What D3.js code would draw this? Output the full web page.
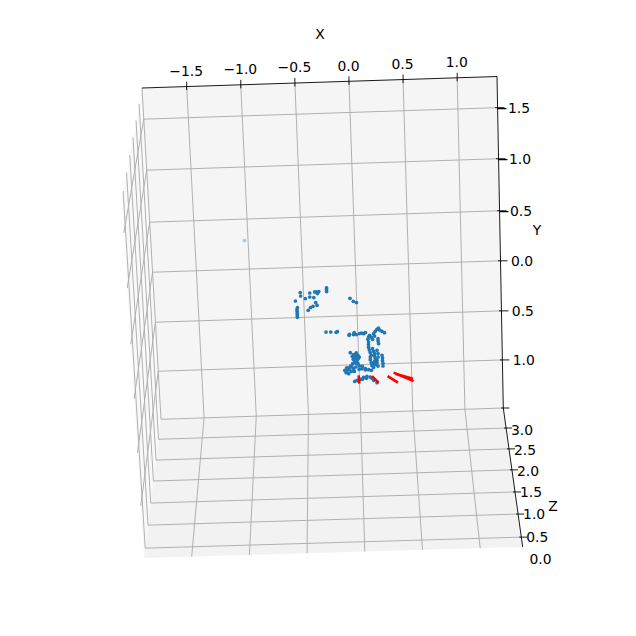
<!DOCTYPE html>
<html><head><meta charset="utf-8">
<script src="https://cdnjs.cloudflare.com/ajax/libs/d3/7.8.5/d3.min.js"></script>
<style>html,body{margin:0;padding:0;background:#fff}svg{display:block}text{font-family:"DejaVu Sans";font-size:13.9px;fill:#000}</style>
</head><body><svg id="c" width="636" height="636"></svg>
<script>
const xTicks=[-1.5,-1.0,-0.5,0.0,0.5,1.0];
const yTicks=[-1.5,-1.0,-0.5,0.0,0.5,1.0];
const zTicks=[0.5,1.0,1.5,2.0,2.5,3.0,3.5];
const zLabels=[0.0,0.5,1.0,1.5,2.0,2.5,3.0];
const dotX=[-.579,-.530,-.528,-.484,-.441,-.442,-.404,-.393,-.374,-.355,-.368,-.280,-.281,-.281,-.563,-.567,-.567,-.567,-.567,-.567,-.462,-.439,-.415,-.388,-.376,-.062,-.032,-.003,
-.301,-.256,-.205,-.193,-.083,-.080,-.034,-.016,.016,.035,.054,.073,-.042,.111,.101,.127,.150,.166,.183,.198,.208,.230,.254,.158,.138,.190,.190,.194,
.094,.099,.098,.098,.104,.112,.121,.135,.144,.153,.152,.158,.150,.140,.162,.177,.186,.185,.174,.173,.182,.111,.110,.119,.124,.139,.223,.227,.226,.230,.229,-.078,
-.048,-.025,-.006,-.038,-.015,.006,-.033,-.017,-.040,-.060,-.079,-.099,-.112,-.125,-.100,-.075,-.052,-.009,.003,-.029,.028,.002,.060,.091,.117,
-.045,-.022,.009,.040,.073,.104,.120,.136,.167,
-.060,-.021,-.004,-.052,-.025,-.093,-.069,-.117,-.136,-.046,.032,.060,-.010,.028,.066];
const dotY=[.334,.251,.286,.313,.259,.299,.306,.250,.251,.248,.267,.214,.230,.250,.400,.420,.440,.460,.480,.497,.431,.405,.393,.356,.384,.325,.356,.370,
.657,.658,.663,.656,.698,.688,.672,.693,.684,.679,.686,.676,.692,.705,.722,.723,.689,.666,.646,.634,.654,.668,.683,.714,.747,.742,.766,.793,
.745,.773,.799,.827,.855,.882,.909,.842,.869,.893,.918,.944,.972,.995,1.006,.860,.894,.929,.962,.986,1.021,.926,.953,.984,1.012,1.033,.913,.941,.967,.995,1.022,.875,
.896,.897,.905,.921,.925,.923,.938,.955,.972,.988,1.011,1.031,1.054,1.077,1.088,1.066,1.039,.989,1.014,1.023,1.042,1.048,1.043,1.054,1.062,
1.169,1.159,1.150,1.131,1.122,1.130,1.141,1.165,1.190,
.913,.879,.936,.944,.986,1.045,1.020,1.028,1.053,1.067,1.018,1.055,1.165,1.151,1.142];
const faintX=[-1.034], faintY=[-.286];
const redX0=[-.006,.121,.270,.328,.344], redY0=[1.109,1.121,1.126,1.093,1.104];
const redX1=[-.002,.182,.367,.516,.511], redY1=[1.194,1.190,1.197,1.186,1.161];

const TL=[142,88],TR=[497,76.5],BL=[161,419.3],BR=[503.3,408],FL=[144,558],FR=[522.7,547],FT=[121.7,199];
const sx=d3.scaleLinear().domain([-1.913,1.368]).range([0,1]);
const sy=d3.scaleLinear().domain([-1.8,-1.5,-1,-.5,0,.5,1,1.49]).range([0,.094,.248,.405,.556,.707,.855,1]);
const sz=d3.scaleLinear().domain([3.5,3,2.5,2,1.5,1,.5,.28,0]).range([0,.144,.294,.445,.604,.763,.929,1,1.094]);
const mix=(a,b,t)=>[a[0]+(b[0]-a[0])*t,a[1]+(b[1]-a[1])*t];
const bi=(a,b,c,d,u,v)=>mix(mix(a,b,u),mix(c,d,u),v);
const mainP=(x,y)=>bi(TL,TR,BL,BR,sx(x),sy(y));
const lowP=(x,z)=>bi(BL,BR,FL,FR,sx(x),sz(z));
const sideP=(y,z)=>bi(TL,BL,FT,FL,sy(y),sz(z));
const svg=d3.select("#c");
const line=d3.line();
const [x0,x1]=sx.domain(), yD=sy.domain(), y0=yD[0], y1=yD[yD.length-1], z0=3.5, z1=.28;

svg.selectAll("path.pane").data([[TL,BL,FL,FT,"#f9f9f9"],[TL,TR,BR,BL,"#f5f5f5"],[BL,BR,FR,FL,"#f2f2f2"]]).join("path")
 .attr("class","pane").attr("d",d=>line(d.slice(0,4))+"Z").attr("fill",d=>d[4]);

const grid=[];
xTicks.forEach(x=>{grid.push([mainP(x,y0),mainP(x,y1)]);grid.push([lowP(x,z0),lowP(x,z1)]);});
yTicks.forEach(y=>{grid.push([mainP(x0,y),mainP(x1,y)]);grid.push([sideP(y,z0),sideP(y,z1)]);});
zTicks.forEach(z=>{grid.push([lowP(x0,z),lowP(x1,z)]);grid.push([sideP(y0,z),sideP(y1,z)]);});
svg.append("g").selectAll("path").data(grid).join("path").attr("d",d=>line(d))
 .attr("fill","none").attr("stroke","#b0b0b0").attr("stroke-width",1);

svg.append("path").attr("d",line([TL,TR,BR,FR])).attr("fill","none").attr("stroke","#000").attr("stroke-width",.9);

const fmt=v=>d3.format(".1f")(v).replace("-","\u2212");
const ticks=[];
xTicks.forEach(x=>{const p=mainP(x,y0);ticks.push([[p[0],p[1]-5],[p[0],p[1]+3.5]]);});
yTicks.forEach(y=>{const p=mainP(x1,y);ticks.push([[p[0]-2.5,p[1]],[p[0]+7,p[1]]]);});
zTicks.forEach(z=>{const p=lowP(x1,z);ticks.push([[p[0]-2,p[1]],[p[0]+6,p[1]]]);});
svg.append("g").selectAll("path").data(ticks).join("path").attr("d",d=>line(d)).attr("stroke","#000").attr("stroke-width",.9).attr("fill","none");

svg.append("g").selectAll("text").data(xTicks).join("text").text(fmt)
 .attr("text-anchor","middle").attr("dominant-baseline","central")
 .attr("x",d=>mainP(d,y0)[0]-.5).attr("y",d=>mainP(d,y0)[1]-15.7);
svg.append("g").selectAll("text").data(yTicks).join("text").text(fmt)
 .attr("text-anchor","end").attr("dominant-baseline","central")
 .attr("x",d=>mainP(x1,d)[0]+32.5).attr("y",d=>mainP(x1,d)[1]+.5);
svg.append("g").selectAll("text").data(zLabels).join("text").text(fmt)
 .attr("text-anchor","middle").attr("dominant-baseline","central")
 .attr("x",d=>lowP(x1,d)[0]+16).attr("y",d=>lowP(x1,d)[1]+.8*(d-1));
[["X",320,34],["Y",537,230],["Z",553,506]].forEach(([t,a,b])=>svg.append("text").text(t).attr("x",a).attr("y",b).attr("text-anchor","middle").attr("dominant-baseline","central"));

svg.append("g").selectAll("circle").data(dotX.map((x,i)=>mainP(x,dotY[i]))).join("circle")
 .attr("cx",d=>d[0]).attr("cy",d=>d[1]).attr("r",1.85).attr("fill","#1f77b4");
svg.append("g").selectAll("circle").data(faintX.map((x,i)=>mainP(x,faintY[i]))).join("circle")
 .attr("cx",d=>d[0]).attr("cy",d=>d[1]).attr("r",1.85).attr("fill","#1f77b4").attr("opacity",.35);
svg.append("g").selectAll("path").data(redX0.map((x,i)=>[mainP(x,redY0[i]),mainP(redX1[i],redY1[i])])).join("path")
 .attr("d",d=>line(d)).attr("stroke","#ff0000").attr("stroke-width",2.6).attr("fill","none");
</script></body></html>
